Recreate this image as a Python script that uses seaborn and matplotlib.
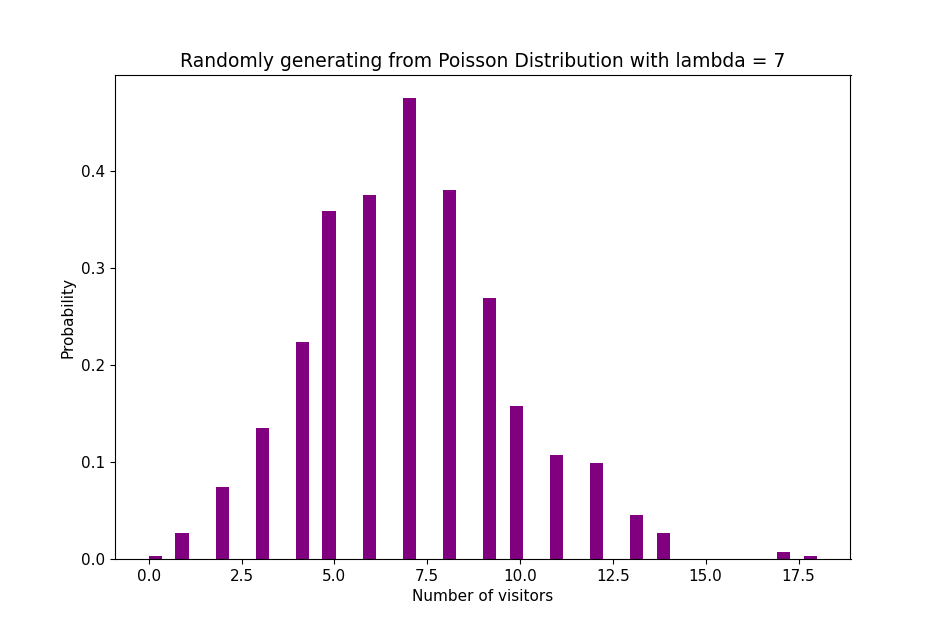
import matplotlib
matplotlib.use("Agg")
import matplotlib.pyplot as plt
import seaborn as sns

visitors = [0, 1, 2, 3, 4, 5, 6, 7, 8, 9, 10, 11, 12, 13, 14, 17, 18]
probability = [0.003, 0.027, 0.074, 0.135, 0.224, 0.358, 0.375, 0.475, 0.380,
               0.269, 0.158, 0.107, 0.099, 0.046, 0.027, 0.007, 0.003]

fig = plt.figure(figsize=(9.45, 6.29), dpi=100)
ax = fig.add_axes([0.122, 0.111, 0.778, 0.77])
sns.histplot(x=visitors, weights=probability, bins=50, binrange=(0, 18),
             color="purple", alpha=1, linewidth=0, ax=ax)
ax.set_xlim(-0.9, 18.9)
ax.set_ylim(0, 0.4987)
ax.set_yticks([0, 0.1, 0.2, 0.3, 0.4])
ax.set_title("Randomly generating from Poisson Distribution with lambda = 7", fontsize=13.5)
ax.set_xlabel("Number of visitors", fontsize=11)
ax.set_ylabel("Probability", fontsize=11)
ax.tick_params(labelsize=11)
fig.savefig("out.png", dpi=100)
